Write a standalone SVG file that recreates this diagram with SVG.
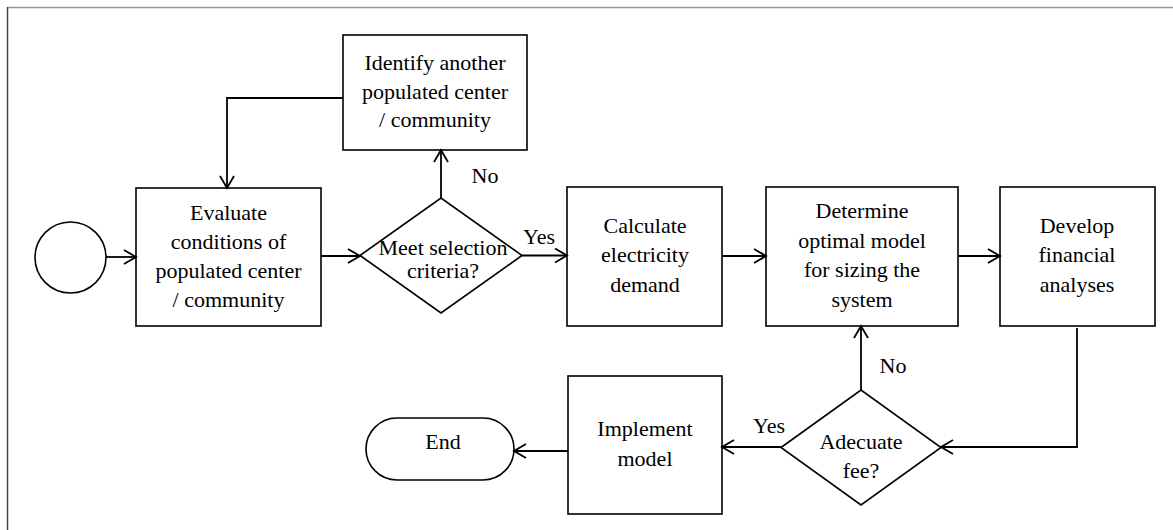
<svg xmlns="http://www.w3.org/2000/svg" width="1173" height="530" viewBox="0 0 1173 530">
<style>
.n{fill:#fff;stroke:#000;stroke-width:1.6}
.t{font-family:"Liberation Serif","Times New Roman",serif;font-size:22px;fill:#000;text-anchor:middle}
.c{fill:none;stroke:#000;stroke-width:1.8}
</style>
<defs>
<marker id="ah" markerUnits="userSpaceOnUse" markerWidth="16" markerHeight="18" refX="13" refY="8" orient="auto">
<polyline points="1,1 13,8 1,15" fill="none" stroke="#000" stroke-width="1.8"/>
</marker>
</defs>
<rect width="1173" height="530" fill="#fff"/>
<line x1="7" y1="7.5" x2="1173" y2="7.5" stroke="#999" stroke-width="1.5"/>
<line x1="7.5" y1="7" x2="7.5" y2="530" stroke="#444" stroke-width="1.5"/>

<g id="start"><circle class="n" cx="70.5" cy="257.5" r="35.5"/></g>

<g id="evaluate"><rect class="n" x="136" y="188" width="185" height="138"/>
<text class="t" x="228.5" y="220">Evaluate</text>
<text class="t" x="228.5" y="249">conditions of</text>
<text class="t" x="228.5" y="278">populated center</text>
<text class="t" x="228.5" y="307">/ community</text></g>

<g id="identify"><rect class="n" x="343" y="35" width="184" height="115"/>
<text class="t" x="435" y="70">Identify another</text>
<text class="t" x="435" y="99">populated center</text>
<text class="t" x="435" y="127">/ community</text></g>

<g id="meet"><polygon class="n" points="360,255.5 441,198 522,255.5 441,313"/>
<text class="t" x="443" y="255">Meet selection</text>
<text class="t" x="443" y="278">criteria?</text></g>

<g id="calculate"><rect class="n" x="567" y="187" width="155" height="139"/>
<text class="t" x="645" y="233">Calculate</text>
<text class="t" x="645" y="262">electricity</text>
<text class="t" x="645" y="292">demand</text></g>

<g id="determine"><rect class="n" x="766" y="187" width="192" height="139"/>
<text class="t" x="862" y="218">Determine</text>
<text class="t" x="862" y="248">optimal model</text>
<text class="t" x="862" y="277">for sizing the</text>
<text class="t" x="862" y="307">system</text></g>

<g id="develop"><rect class="n" x="1000" y="187" width="155" height="139"/>
<text class="t" x="1077" y="233">Develop</text>
<text class="t" x="1077" y="262">financial</text>
<text class="t" x="1077" y="292">analyses</text></g>

<g id="fee"><polygon class="n" points="781,447.5 861,390 941,447.5 861,505"/>
<text class="t" x="861" y="449">Adecuate</text>
<text class="t" x="861" y="478">fee?</text></g>

<g id="implement"><rect class="n" x="568" y="376" width="154" height="138"/>
<text class="t" x="645" y="436">Implement</text>
<text class="t" x="645" y="466">model</text></g>

<g id="end"><rect class="n" x="366" y="418" width="148" height="62" rx="31" ry="31"/>
<text class="t" x="443" y="449">End</text></g>

<g id="connectors">
<line class="c" x1="106" y1="257" x2="136" y2="257" marker-end="url(#ah)"/>
<line class="c" x1="321" y1="256" x2="360" y2="256" marker-end="url(#ah)"/>
<line class="c" x1="441" y1="198" x2="441" y2="150" marker-end="url(#ah)"/>
<polyline class="c" points="343,98 227,98 227,188" marker-end="url(#ah)"/>
<line class="c" x1="522" y1="255.5" x2="567" y2="255.5" marker-end="url(#ah)"/>
<line class="c" x1="722" y1="256" x2="766" y2="256" marker-end="url(#ah)"/>
<line class="c" x1="958" y1="256" x2="1000" y2="256" marker-end="url(#ah)"/>
<polyline class="c" points="1077,328 1077,447 941,447" marker-end="url(#ah)"/>
<line class="c" x1="861" y1="390" x2="861" y2="326" marker-end="url(#ah)"/>
<line class="c" x1="781" y1="447" x2="722" y2="447" marker-end="url(#ah)"/>
<line class="c" x1="568" y1="451" x2="514" y2="451" marker-end="url(#ah)"/>
<text class="t" x="485" y="183">No</text>
<text class="t" x="539" y="244">Yes</text>
<text class="t" x="893" y="373">No</text>
<text class="t" x="769" y="433">Yes</text>
</g>
</svg>
